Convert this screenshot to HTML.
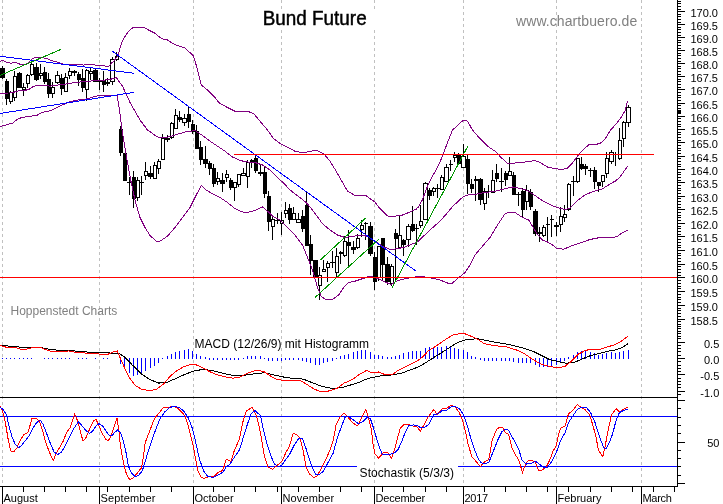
<!DOCTYPE html>
<html><head><meta charset="utf-8"><title>Bund Future</title>
<style>
html,body{margin:0;padding:0;background:#fff;}
body{width:723px;height:504px;overflow:hidden;}
svg{display:block;font-family:"Liberation Sans",Arial,sans-serif;}
</style></head><body>
<svg width="723" height="504" viewBox="0 0 723 504">
<rect x="0" y="0" width="723" height="504" fill="#fff"/>
<g shape-rendering="crispEdges">
<line x1="2.5" y1="0" x2="2.5" y2="486" stroke="#c0c0c0" stroke-width="1" stroke-dasharray="3,3"/>
<line x1="99.5" y1="0" x2="99.5" y2="486" stroke="#c0c0c0" stroke-width="1" stroke-dasharray="3,3"/>
<line x1="193.5" y1="0" x2="193.5" y2="486" stroke="#c0c0c0" stroke-width="1" stroke-dasharray="3,3"/>
<line x1="281.5" y1="0" x2="281.5" y2="486" stroke="#c0c0c0" stroke-width="1" stroke-dasharray="3,3"/>
<line x1="374.5" y1="0" x2="374.5" y2="486" stroke="#c0c0c0" stroke-width="1" stroke-dasharray="3,3"/>
<line x1="463.5" y1="0" x2="463.5" y2="486" stroke="#c0c0c0" stroke-width="1" stroke-dasharray="3,3"/>
<line x1="556.5" y1="0" x2="556.5" y2="486" stroke="#c0c0c0" stroke-width="1" stroke-dasharray="3,3"/>
<line x1="641.5" y1="0" x2="641.5" y2="486" stroke="#c0c0c0" stroke-width="1" stroke-dasharray="3,3"/>
<rect x="2" y="66" width="1" height="13" fill="#000"/>
<rect x="0" y="68" width="5" height="10" fill="#000"/>
<rect x="6" y="79" width="1" height="26" fill="#000"/>
<rect x="5" y="81" width="4" height="18" fill="#000"/>
<rect x="10" y="91" width="1" height="13" fill="#000"/>
<rect x="9" y="92" width="4" height="10" fill="#000"/>
<rect x="10" y="93" width="2" height="8" fill="#fff"/>
<rect x="14" y="71" width="1" height="30" fill="#000"/>
<rect x="13" y="76" width="4" height="22" fill="#000"/>
<rect x="14" y="77" width="2" height="20" fill="#fff"/>
<rect x="19" y="72" width="1" height="16" fill="#000"/>
<rect x="17" y="73" width="5" height="15" fill="#000"/>
<rect x="23" y="83" width="1" height="13" fill="#000"/>
<rect x="22" y="87" width="4" height="3" fill="#000"/>
<rect x="23" y="88" width="2" height="1" fill="#fff"/>
<rect x="27" y="74" width="1" height="14" fill="#000"/>
<rect x="26" y="75" width="4" height="9" fill="#000"/>
<rect x="27" y="76" width="2" height="7" fill="#fff"/>
<rect x="31" y="63" width="1" height="13" fill="#000"/>
<rect x="30" y="64" width="4" height="11" fill="#000"/>
<rect x="31" y="65" width="2" height="9" fill="#fff"/>
<rect x="36" y="63" width="1" height="18" fill="#000"/>
<rect x="34" y="67" width="5" height="13" fill="#000"/>
<rect x="40" y="64" width="1" height="15" fill="#000"/>
<rect x="39" y="73" width="4" height="3" fill="#000"/>
<rect x="40" y="74" width="2" height="1" fill="#fff"/>
<rect x="44" y="67" width="1" height="17" fill="#000"/>
<rect x="43" y="72" width="4" height="10" fill="#000"/>
<rect x="48" y="73" width="1" height="25" fill="#000"/>
<rect x="47" y="79" width="4" height="15" fill="#000"/>
<rect x="52" y="82" width="1" height="16" fill="#000"/>
<rect x="51" y="87" width="4" height="7" fill="#000"/>
<rect x="52" y="88" width="2" height="5" fill="#fff"/>
<rect x="57" y="71" width="1" height="13" fill="#000"/>
<rect x="55" y="75" width="5" height="8" fill="#000"/>
<rect x="56" y="76" width="3" height="6" fill="#fff"/>
<rect x="61" y="74" width="1" height="21" fill="#000"/>
<rect x="60" y="78" width="4" height="11" fill="#000"/>
<rect x="65" y="73" width="1" height="19" fill="#000"/>
<rect x="64" y="77" width="4" height="15" fill="#000"/>
<rect x="65" y="78" width="2" height="13" fill="#fff"/>
<rect x="69" y="68" width="1" height="11" fill="#000"/>
<rect x="68" y="71" width="4" height="5" fill="#000"/>
<rect x="69" y="72" width="2" height="3" fill="#fff"/>
<rect x="74" y="70" width="1" height="6" fill="#000"/>
<rect x="72" y="71" width="5" height="2" fill="#000"/>
<rect x="78" y="72" width="1" height="14" fill="#000"/>
<rect x="77" y="74" width="4" height="6" fill="#000"/>
<rect x="82" y="69" width="1" height="23" fill="#000"/>
<rect x="81" y="78" width="4" height="10" fill="#000"/>
<rect x="86" y="69" width="1" height="32" fill="#000"/>
<rect x="85" y="70" width="4" height="20" fill="#000"/>
<rect x="86" y="71" width="2" height="18" fill="#fff"/>
<rect x="90" y="68" width="1" height="12" fill="#000"/>
<rect x="89" y="71" width="4" height="3" fill="#000"/>
<rect x="90" y="72" width="2" height="1" fill="#fff"/>
<rect x="95" y="69" width="1" height="13" fill="#000"/>
<rect x="93" y="70" width="5" height="12" fill="#000"/>
<rect x="99" y="78" width="1" height="12" fill="#000"/>
<rect x="98" y="80" width="4" height="2" fill="#000"/>
<rect x="103" y="71" width="1" height="21" fill="#000"/>
<rect x="102" y="80" width="4" height="5" fill="#000"/>
<rect x="107" y="78" width="1" height="8" fill="#000"/>
<rect x="106" y="82" width="4" height="2" fill="#000"/>
<rect x="112" y="57" width="1" height="28" fill="#000"/>
<rect x="110" y="59" width="5" height="23" fill="#000"/>
<rect x="111" y="60" width="3" height="21" fill="#fff"/>
<rect x="116" y="52" width="1" height="9" fill="#000"/>
<rect x="115" y="56" width="4" height="4" fill="#000"/>
<rect x="116" y="57" width="2" height="2" fill="#fff"/>
<rect x="120" y="126" width="1" height="30" fill="#000"/>
<rect x="119" y="129" width="4" height="24" fill="#000"/>
<rect x="124" y="153" width="1" height="28" fill="#000"/>
<rect x="123" y="153" width="4" height="28" fill="#000"/>
<rect x="129" y="177" width="1" height="18" fill="#000"/>
<rect x="127" y="182" width="5" height="1" fill="#000"/>
<rect x="133" y="171" width="1" height="37" fill="#000"/>
<rect x="132" y="177" width="4" height="22" fill="#000"/>
<rect x="137" y="177" width="1" height="24" fill="#000"/>
<rect x="136" y="180" width="4" height="18" fill="#000"/>
<rect x="137" y="181" width="2" height="16" fill="#fff"/>
<rect x="141" y="176" width="1" height="19" fill="#000"/>
<rect x="140" y="182" width="4" height="1" fill="#000"/>
<rect x="145" y="162" width="1" height="18" fill="#000"/>
<rect x="144" y="171" width="4" height="5" fill="#000"/>
<rect x="145" y="172" width="2" height="3" fill="#fff"/>
<rect x="150" y="166" width="1" height="13" fill="#000"/>
<rect x="148" y="173" width="5" height="4" fill="#000"/>
<rect x="154" y="162" width="1" height="17" fill="#000"/>
<rect x="153" y="165" width="4" height="14" fill="#000"/>
<rect x="154" y="166" width="2" height="12" fill="#fff"/>
<rect x="158" y="159" width="1" height="15" fill="#000"/>
<rect x="157" y="161" width="4" height="8" fill="#000"/>
<rect x="158" y="162" width="2" height="6" fill="#fff"/>
<rect x="162" y="134" width="1" height="26" fill="#000"/>
<rect x="161" y="138" width="4" height="22" fill="#000"/>
<rect x="162" y="139" width="2" height="20" fill="#fff"/>
<rect x="167" y="135" width="1" height="7" fill="#000"/>
<rect x="165" y="138" width="5" height="2" fill="#000"/>
<rect x="171" y="122" width="1" height="17" fill="#000"/>
<rect x="170" y="123" width="4" height="15" fill="#000"/>
<rect x="171" y="124" width="2" height="13" fill="#fff"/>
<rect x="175" y="109" width="1" height="20" fill="#000"/>
<rect x="174" y="115" width="4" height="14" fill="#000"/>
<rect x="175" y="116" width="2" height="12" fill="#fff"/>
<rect x="179" y="111" width="1" height="11" fill="#000"/>
<rect x="178" y="117" width="4" height="3" fill="#000"/>
<rect x="184" y="114" width="1" height="12" fill="#000"/>
<rect x="182" y="118" width="5" height="5" fill="#000"/>
<rect x="183" y="119" width="3" height="3" fill="#fff"/>
<rect x="188" y="107" width="1" height="21" fill="#000"/>
<rect x="187" y="114" width="4" height="8" fill="#000"/>
<rect x="192" y="120" width="1" height="14" fill="#000"/>
<rect x="191" y="124" width="4" height="8" fill="#000"/>
<rect x="196" y="125" width="1" height="24" fill="#000"/>
<rect x="195" y="131" width="4" height="18" fill="#000"/>
<rect x="200" y="141" width="1" height="24" fill="#000"/>
<rect x="199" y="147" width="4" height="13" fill="#000"/>
<rect x="205" y="146" width="1" height="22" fill="#000"/>
<rect x="203" y="159" width="5" height="5" fill="#000"/>
<rect x="209" y="161" width="1" height="14" fill="#000"/>
<rect x="208" y="163" width="4" height="6" fill="#000"/>
<rect x="213" y="164" width="1" height="23" fill="#000"/>
<rect x="212" y="168" width="4" height="16" fill="#000"/>
<rect x="217" y="172" width="1" height="13" fill="#000"/>
<rect x="216" y="178" width="4" height="4" fill="#000"/>
<rect x="217" y="179" width="2" height="2" fill="#fff"/>
<rect x="222" y="173" width="1" height="19" fill="#000"/>
<rect x="220" y="180" width="5" height="4" fill="#000"/>
<rect x="226" y="170" width="1" height="12" fill="#000"/>
<rect x="225" y="174" width="4" height="4" fill="#000"/>
<rect x="226" y="175" width="2" height="2" fill="#fff"/>
<rect x="230" y="178" width="1" height="12" fill="#000"/>
<rect x="229" y="180" width="4" height="8" fill="#000"/>
<rect x="234" y="182" width="1" height="19" fill="#000"/>
<rect x="233" y="182" width="4" height="6" fill="#000"/>
<rect x="234" y="183" width="2" height="4" fill="#fff"/>
<rect x="238" y="174" width="1" height="13" fill="#000"/>
<rect x="237" y="174" width="4" height="11" fill="#000"/>
<rect x="238" y="175" width="2" height="9" fill="#fff"/>
<rect x="243" y="168" width="1" height="8" fill="#000"/>
<rect x="241" y="173" width="5" height="3" fill="#000"/>
<rect x="242" y="174" width="3" height="1" fill="#fff"/>
<rect x="247" y="160" width="1" height="28" fill="#000"/>
<rect x="246" y="162" width="4" height="15" fill="#000"/>
<rect x="247" y="163" width="2" height="13" fill="#fff"/>
<rect x="251" y="159" width="1" height="9" fill="#000"/>
<rect x="250" y="160" width="4" height="2" fill="#000"/>
<rect x="255" y="155" width="1" height="18" fill="#000"/>
<rect x="254" y="158" width="4" height="13" fill="#000"/>
<rect x="260" y="165" width="1" height="11" fill="#000"/>
<rect x="258" y="172" width="5" height="2" fill="#000"/>
<rect x="264" y="167" width="1" height="31" fill="#000"/>
<rect x="263" y="172" width="4" height="22" fill="#000"/>
<rect x="268" y="191" width="1" height="40" fill="#000"/>
<rect x="267" y="196" width="4" height="26" fill="#000"/>
<rect x="272" y="215" width="1" height="25" fill="#000"/>
<rect x="271" y="219" width="4" height="8" fill="#000"/>
<rect x="272" y="220" width="2" height="6" fill="#fff"/>
<rect x="277" y="213" width="1" height="11" fill="#000"/>
<rect x="275" y="220" width="5" height="1" fill="#000"/>
<rect x="281" y="212" width="1" height="23" fill="#000"/>
<rect x="280" y="220" width="4" height="4" fill="#000"/>
<rect x="281" y="221" width="2" height="2" fill="#fff"/>
<rect x="285" y="202" width="1" height="16" fill="#000"/>
<rect x="284" y="210" width="4" height="4" fill="#000"/>
<rect x="285" y="211" width="2" height="2" fill="#fff"/>
<rect x="289" y="204" width="1" height="20" fill="#000"/>
<rect x="288" y="208" width="4" height="12" fill="#000"/>
<rect x="293" y="207" width="1" height="13" fill="#000"/>
<rect x="292" y="213" width="4" height="7" fill="#000"/>
<rect x="293" y="214" width="2" height="5" fill="#fff"/>
<rect x="298" y="213" width="1" height="10" fill="#000"/>
<rect x="296" y="219" width="5" height="4" fill="#000"/>
<rect x="297" y="220" width="3" height="2" fill="#fff"/>
<rect x="302" y="210" width="1" height="22" fill="#000"/>
<rect x="301" y="216" width="4" height="13" fill="#000"/>
<rect x="306" y="192" width="1" height="54" fill="#000"/>
<rect x="305" y="205" width="4" height="41" fill="#000"/>
<rect x="310" y="235" width="1" height="40" fill="#000"/>
<rect x="309" y="244" width="4" height="17" fill="#000"/>
<rect x="315" y="260" width="1" height="18" fill="#000"/>
<rect x="313" y="260" width="5" height="17" fill="#000"/>
<rect x="319" y="267" width="1" height="33" fill="#000"/>
<rect x="318" y="275" width="4" height="11" fill="#000"/>
<rect x="319" y="276" width="2" height="9" fill="#fff"/>
<rect x="323" y="260" width="1" height="12" fill="#000"/>
<rect x="322" y="269" width="4" height="3" fill="#000"/>
<rect x="323" y="270" width="2" height="1" fill="#fff"/>
<rect x="327" y="261" width="1" height="21" fill="#000"/>
<rect x="326" y="263" width="4" height="5" fill="#000"/>
<rect x="327" y="264" width="2" height="3" fill="#fff"/>
<rect x="332" y="251" width="1" height="17" fill="#000"/>
<rect x="330" y="262" width="5" height="1" fill="#000"/>
<rect x="336" y="248" width="1" height="29" fill="#000"/>
<rect x="335" y="256" width="4" height="17" fill="#000"/>
<rect x="336" y="257" width="2" height="15" fill="#fff"/>
<rect x="340" y="251" width="1" height="13" fill="#000"/>
<rect x="339" y="252" width="4" height="2" fill="#000"/>
<rect x="344" y="236" width="1" height="21" fill="#000"/>
<rect x="343" y="241" width="4" height="15" fill="#000"/>
<rect x="344" y="242" width="2" height="13" fill="#fff"/>
<rect x="348" y="230" width="1" height="36" fill="#000"/>
<rect x="347" y="242" width="4" height="4" fill="#000"/>
<rect x="353" y="241" width="1" height="13" fill="#000"/>
<rect x="351" y="247" width="5" height="3" fill="#000"/>
<rect x="357" y="234" width="1" height="15" fill="#000"/>
<rect x="356" y="238" width="4" height="10" fill="#000"/>
<rect x="357" y="239" width="2" height="8" fill="#fff"/>
<rect x="361" y="220" width="1" height="17" fill="#000"/>
<rect x="360" y="225" width="4" height="5" fill="#000"/>
<rect x="361" y="226" width="2" height="3" fill="#fff"/>
<rect x="365" y="222" width="1" height="18" fill="#000"/>
<rect x="364" y="223" width="4" height="1" fill="#000"/>
<rect x="370" y="222" width="1" height="34" fill="#000"/>
<rect x="368" y="226" width="5" height="28" fill="#000"/>
<rect x="374" y="252" width="1" height="38" fill="#000"/>
<rect x="373" y="257" width="4" height="25" fill="#000"/>
<rect x="378" y="246" width="1" height="35" fill="#000"/>
<rect x="377" y="246" width="4" height="32" fill="#000"/>
<rect x="378" y="247" width="2" height="30" fill="#fff"/>
<rect x="382" y="238" width="1" height="42" fill="#000"/>
<rect x="381" y="238" width="4" height="27" fill="#000"/>
<rect x="387" y="257" width="1" height="28" fill="#000"/>
<rect x="385" y="264" width="5" height="18" fill="#000"/>
<rect x="391" y="264" width="1" height="22" fill="#000"/>
<rect x="390" y="266" width="4" height="18" fill="#000"/>
<rect x="391" y="267" width="2" height="16" fill="#fff"/>
<rect x="395" y="229" width="1" height="51" fill="#000"/>
<rect x="394" y="233" width="4" height="6" fill="#000"/>
<rect x="399" y="215" width="1" height="34" fill="#000"/>
<rect x="398" y="235" width="4" height="13" fill="#000"/>
<rect x="399" y="236" width="2" height="11" fill="#fff"/>
<rect x="403" y="239" width="1" height="17" fill="#000"/>
<rect x="402" y="240" width="4" height="5" fill="#000"/>
<rect x="408" y="224" width="1" height="23" fill="#000"/>
<rect x="406" y="226" width="5" height="14" fill="#000"/>
<rect x="407" y="227" width="3" height="12" fill="#fff"/>
<rect x="412" y="206" width="1" height="26" fill="#000"/>
<rect x="411" y="224" width="4" height="7" fill="#000"/>
<rect x="416" y="224" width="1" height="21" fill="#000"/>
<rect x="415" y="228" width="4" height="1" fill="#000"/>
<rect x="420" y="205" width="1" height="23" fill="#000"/>
<rect x="419" y="221" width="4" height="5" fill="#000"/>
<rect x="420" y="222" width="2" height="3" fill="#fff"/>
<rect x="425" y="182" width="1" height="38" fill="#000"/>
<rect x="423" y="183" width="5" height="37" fill="#000"/>
<rect x="424" y="184" width="3" height="35" fill="#fff"/>
<rect x="429" y="188" width="1" height="12" fill="#000"/>
<rect x="428" y="190" width="4" height="6" fill="#000"/>
<rect x="433" y="187" width="1" height="9" fill="#000"/>
<rect x="432" y="188" width="4" height="4" fill="#000"/>
<rect x="433" y="189" width="2" height="2" fill="#fff"/>
<rect x="437" y="184" width="1" height="14" fill="#000"/>
<rect x="436" y="188" width="4" height="1" fill="#000"/>
<rect x="441" y="175" width="1" height="15" fill="#000"/>
<rect x="440" y="177" width="4" height="13" fill="#000"/>
<rect x="441" y="178" width="2" height="11" fill="#fff"/>
<rect x="446" y="164" width="1" height="18" fill="#000"/>
<rect x="444" y="167" width="5" height="15" fill="#000"/>
<rect x="445" y="168" width="3" height="13" fill="#fff"/>
<rect x="450" y="160" width="1" height="11" fill="#000"/>
<rect x="449" y="164" width="4" height="1" fill="#000"/>
<rect x="454" y="152" width="1" height="10" fill="#000"/>
<rect x="453" y="155" width="4" height="3" fill="#000"/>
<rect x="454" y="156" width="2" height="1" fill="#fff"/>
<rect x="458" y="153" width="1" height="12" fill="#000"/>
<rect x="457" y="155" width="4" height="9" fill="#000"/>
<rect x="463" y="144" width="1" height="24" fill="#000"/>
<rect x="461" y="156" width="5" height="12" fill="#000"/>
<rect x="462" y="157" width="3" height="10" fill="#fff"/>
<rect x="467" y="155" width="1" height="39" fill="#000"/>
<rect x="466" y="159" width="4" height="25" fill="#000"/>
<rect x="471" y="179" width="1" height="14" fill="#000"/>
<rect x="470" y="184" width="4" height="5" fill="#000"/>
<rect x="475" y="176" width="1" height="25" fill="#000"/>
<rect x="474" y="179" width="4" height="2" fill="#000"/>
<rect x="480" y="178" width="1" height="27" fill="#000"/>
<rect x="478" y="179" width="5" height="21" fill="#000"/>
<rect x="484" y="188" width="1" height="22" fill="#000"/>
<rect x="483" y="191" width="4" height="13" fill="#000"/>
<rect x="484" y="192" width="2" height="11" fill="#fff"/>
<rect x="488" y="185" width="1" height="13" fill="#000"/>
<rect x="487" y="191" width="4" height="1" fill="#000"/>
<rect x="492" y="170" width="1" height="23" fill="#000"/>
<rect x="491" y="180" width="4" height="13" fill="#000"/>
<rect x="492" y="181" width="2" height="11" fill="#fff"/>
<rect x="496" y="164" width="1" height="18" fill="#000"/>
<rect x="495" y="173" width="4" height="6" fill="#000"/>
<rect x="501" y="168" width="1" height="24" fill="#000"/>
<rect x="499" y="181" width="5" height="1" fill="#000"/>
<rect x="505" y="171" width="1" height="15" fill="#000"/>
<rect x="504" y="173" width="4" height="7" fill="#000"/>
<rect x="509" y="157" width="1" height="19" fill="#000"/>
<rect x="508" y="171" width="4" height="5" fill="#000"/>
<rect x="509" y="172" width="2" height="3" fill="#fff"/>
<rect x="513" y="172" width="1" height="23" fill="#000"/>
<rect x="512" y="175" width="4" height="20" fill="#000"/>
<rect x="518" y="192" width="1" height="14" fill="#000"/>
<rect x="516" y="194" width="5" height="1" fill="#000"/>
<rect x="522" y="188" width="1" height="29" fill="#000"/>
<rect x="521" y="191" width="4" height="19" fill="#000"/>
<rect x="526" y="185" width="1" height="25" fill="#000"/>
<rect x="525" y="190" width="4" height="12" fill="#000"/>
<rect x="526" y="191" width="2" height="10" fill="#fff"/>
<rect x="530" y="189" width="1" height="21" fill="#000"/>
<rect x="529" y="192" width="4" height="15" fill="#000"/>
<rect x="535" y="209" width="1" height="27" fill="#000"/>
<rect x="533" y="211" width="5" height="23" fill="#000"/>
<rect x="539" y="227" width="1" height="15" fill="#000"/>
<rect x="538" y="232" width="4" height="2" fill="#000"/>
<rect x="543" y="225" width="1" height="12" fill="#000"/>
<rect x="542" y="227" width="4" height="9" fill="#000"/>
<rect x="543" y="228" width="2" height="7" fill="#fff"/>
<rect x="547" y="217" width="1" height="25" fill="#000"/>
<rect x="546" y="224" width="4" height="1" fill="#000"/>
<rect x="551" y="215" width="1" height="22" fill="#000"/>
<rect x="550" y="219" width="4" height="1" fill="#000"/>
<rect x="556" y="222" width="1" height="14" fill="#000"/>
<rect x="554" y="225" width="5" height="2" fill="#000"/>
<rect x="560" y="207" width="1" height="25" fill="#000"/>
<rect x="559" y="216" width="4" height="9" fill="#000"/>
<rect x="560" y="217" width="2" height="7" fill="#fff"/>
<rect x="564" y="205" width="1" height="17" fill="#000"/>
<rect x="563" y="214" width="4" height="4" fill="#000"/>
<rect x="564" y="215" width="2" height="2" fill="#fff"/>
<rect x="568" y="183" width="1" height="28" fill="#000"/>
<rect x="567" y="184" width="4" height="26" fill="#000"/>
<rect x="568" y="185" width="2" height="24" fill="#fff"/>
<rect x="573" y="176" width="1" height="20" fill="#000"/>
<rect x="571" y="181" width="5" height="1" fill="#000"/>
<rect x="577" y="158" width="1" height="25" fill="#000"/>
<rect x="576" y="158" width="4" height="24" fill="#000"/>
<rect x="577" y="159" width="2" height="22" fill="#fff"/>
<rect x="581" y="157" width="1" height="13" fill="#000"/>
<rect x="580" y="164" width="4" height="5" fill="#000"/>
<rect x="585" y="164" width="1" height="11" fill="#000"/>
<rect x="584" y="166" width="4" height="3" fill="#000"/>
<rect x="590" y="168" width="1" height="9" fill="#000"/>
<rect x="588" y="170" width="5" height="1" fill="#000"/>
<rect x="594" y="167" width="1" height="22" fill="#000"/>
<rect x="593" y="170" width="4" height="12" fill="#000"/>
<rect x="598" y="182" width="1" height="10" fill="#000"/>
<rect x="597" y="182" width="4" height="4" fill="#000"/>
<rect x="602" y="175" width="1" height="12" fill="#000"/>
<rect x="601" y="175" width="4" height="7" fill="#000"/>
<rect x="602" y="176" width="2" height="5" fill="#fff"/>
<rect x="606" y="152" width="1" height="26" fill="#000"/>
<rect x="605" y="158" width="4" height="16" fill="#000"/>
<rect x="606" y="159" width="2" height="14" fill="#fff"/>
<rect x="611" y="150" width="1" height="14" fill="#000"/>
<rect x="609" y="152" width="5" height="10" fill="#000"/>
<rect x="610" y="153" width="3" height="8" fill="#fff"/>
<rect x="615" y="152" width="1" height="14" fill="#000"/>
<rect x="614" y="154" width="4" height="1" fill="#000"/>
<rect x="619" y="128" width="1" height="32" fill="#000"/>
<rect x="618" y="140" width="4" height="19" fill="#000"/>
<rect x="619" y="141" width="2" height="17" fill="#fff"/>
<rect x="623" y="121" width="1" height="26" fill="#000"/>
<rect x="622" y="122" width="4" height="17" fill="#000"/>
<rect x="623" y="123" width="2" height="15" fill="#fff"/>
<rect x="628" y="105" width="1" height="22" fill="#000"/>
<rect x="626" y="107" width="5" height="16" fill="#000"/>
<rect x="627" y="108" width="3" height="14" fill="#fff"/>
<polyline points="0.0,61.3 2.5,60.4 5.0,61.7 8.3,62.5 10.8,63.4 13.3,62.5 16.6,62.8 19.9,64.2 24.9,64.4 27.4,63.4 29.9,61.3 32.4,58.8 35.7,57.5 41.5,57.5 46.5,58.4 49.8,60.0 53.9,61.3 58.0,62.3 60.8,63.6 64.7,64.4 69.5,64.6 80.2,64.6 84.0,65.1 86.0,64.4 93.7,64.4 95.7,65.4 103.4,65.6 106.3,66.5 108.7,66.3 111.1,63.6 114.1,60.7 117.0,56.8 118.7,53.6 120.6,46.1 122.4,41.2 125.6,35.6 128.7,31.2 133.0,27.5 144.2,27.5 148.6,30.0 154.8,33.1 159.8,37.4 163.5,39.3 166.6,39.3 171.0,42.4 176.0,44.9 184.7,48.0 189.7,52.4 193.4,56.1 194.7,59.8 197.5,70.0 201.2,85.0 207.5,90.0 215.0,97.5 218.7,102.5 227.5,107.5 235.0,111.2 247.5,111.2 253.7,113.7 260.0,121.2 267.5,130.0 273.7,138.7 280.0,143.5 287.5,147.3 295.0,151.2 302.5,152.8 310.0,151.5 316.2,150.2 323.7,153.7 330.0,161.2 336.2,171.2 342.5,182.5 347.5,191.0 355.0,195.5 365.0,195.0 370.0,198.7 375.0,202.0 380.0,208.7 387.5,216.0 395.0,216.2 402.5,215.0 410.0,212.0 417.5,208.5 422.5,199.5 427.5,186.2 432.5,176.2 437.5,167.5 442.5,156.2 447.5,142.5 452.5,130.0 457.5,125.7 460.0,123.0 463.7,120.0 467.5,121.2 472.5,130.0 480.0,138.7 487.5,146.2 495.0,151.2 501.2,157.5 507.5,163.7 515.0,163.0 525.0,162.0 535.0,160.5 540.0,162.5 547.5,167.0 555.0,168.7 562.5,169.5 567.5,168.0 572.5,163.0 577.5,156.0 582.5,150.5 589.2,144.3 594.2,144.7 600.0,143.5 605.0,139.2 610.0,130.8 616.7,123.3 621.7,116.7 625.0,110.8 627.5,101.3" fill="none" stroke="#800080" stroke-width="1"/>
<polyline points="0.0,93.6 5.0,93.2 12.4,92.8 16.6,91.2 21.6,90.3 28.2,89.9 33.2,86.6 37.3,85.4 46.5,85.4 49.8,86.2 54.8,85.4 62.5,84.5 75.0,82.5 87.5,81.2 100.0,80.5 110.0,79.5 116.2,77.5 122.5,86.2 130.0,102.5 140.0,120.0 147.5,130.0 157.5,137.0 165.0,138.0 175.0,135.0 185.0,132.0 195.0,130.5 202.5,135.5 210.0,141.2 217.5,146.2 225.0,151.2 232.5,157.0 240.0,160.5 247.5,162.0 255.0,162.5 262.5,165.0 270.0,170.0 277.5,177.5 285.0,184.5 290.0,190.0 300.0,197.5 307.5,203.7 315.0,213.5 322.5,223.7 330.0,230.0 337.5,235.0 345.0,237.5 352.5,236.2 360.0,235.5 367.5,236.2 375.0,241.2 382.5,246.2 390.0,249.5 397.5,248.7 405.0,247.0 412.5,243.9 415.0,243.3 418.6,241.0 422.1,237.4 426.9,233.2 431.7,228.5 436.4,224.3 440.0,221.3 443.6,217.1 448.3,211.8 453.1,205.8 456.7,202.9 460.2,199.3 463.8,196.3 467.4,195.1 475.0,194.3 482.5,193.0 495.0,191.2 505.0,188.7 512.5,187.0 520.0,188.3 527.5,190.5 535.0,195.5 542.5,200.8 550.0,204.7 557.5,207.7 565.0,209.6 570.0,208.0 577.5,200.5 585.0,195.0 592.5,191.7 602.5,188.8 610.0,184.0 615.8,180.8 620.0,177.0 627.5,166.3" fill="none" stroke="#800080" stroke-width="1"/>
<polyline points="0.0,126.7 7.0,124.6 13.1,122.9 18.3,118.5 26.1,116.8 36.6,115.5 41.8,112.4 50.5,110.7 59.3,106.3 69.7,101.9 76.7,100.2 87.1,98.8 97.6,95.8 117.1,95.8 118.5,103.7 120.3,115.9 121.5,126.7 123.7,140.0 127.5,162.5 131.2,182.5 135.0,200.0 140.0,217.5 145.0,227.5 150.0,235.5 156.2,241.2 160.0,241.2 167.5,236.2 175.0,227.5 182.5,217.5 190.0,207.5 195.0,197.5 201.2,185.5 206.2,190.0 212.5,193.7 220.0,197.5 227.5,202.5 235.0,208.7 245.0,213.0 255.0,210.5 262.5,207.0 267.5,211.2 272.5,216.2 280.0,220.0 287.5,227.5 295.0,235.0 302.5,245.0 307.5,257.5 312.5,270.0 317.5,287.5 321.2,296.2 326.2,300.0 332.5,299.5 338.7,295.0 343.7,287.5 348.7,282.5 355.0,281.2 362.5,278.7 370.0,276.2 375.0,277.5 380.0,279.5 387.5,283.0 391.2,284.5 397.5,280.5 405.0,278.7 412.5,277.5 420.0,276.2 427.5,277.5 435.0,278.7 440.0,280.0 447.5,283.0 452.5,283.0 457.5,278.7 465.0,272.5 470.0,265.0 475.0,255.0 482.5,246.2 490.0,237.5 497.5,225.0 505.0,213.7 510.0,212.0 515.0,212.5 522.5,217.5 528.7,220.0 532.5,226.2 537.5,234.5 542.5,240.0 547.5,242.0 552.5,245.0 556.2,248.0 563.7,249.3 570.0,246.5 580.0,243.0 590.0,239.5 600.0,237.5 612.5,237.5 616.7,236.7 621.7,233.3 628.0,230.0" fill="none" stroke="#800080" stroke-width="1"/>
<line x1="0" y1="56.2" x2="134.2" y2="73.3" stroke="#0000ff" stroke-width="1"/>
<line x1="0" y1="113.5" x2="134.2" y2="92.3" stroke="#0000ff" stroke-width="1"/>
<line x1="112" y1="51" x2="416.5" y2="271.5" stroke="#0000ff" stroke-width="1"/>
<line x1="0" y1="75.4" x2="60.8" y2="49.5" stroke="#009600" stroke-width="1"/>
<line x1="320" y1="260.3" x2="365.5" y2="218.2" stroke="#009600" stroke-width="1"/>
<line x1="315" y1="297.5" x2="379" y2="239" stroke="#009600" stroke-width="1"/>
<line x1="391.7" y1="288.3" x2="467.8" y2="146.3" stroke="#009600" stroke-width="1"/>
<rect x="234" y="154" width="420" height="1" fill="#ff0000"/>
<rect x="0" y="277" width="677" height="1" fill="#ff0000"/>
<rect x="2" y="358" width="1" height="1" fill="#0000ff"/>
<rect x="6" y="358" width="1" height="1" fill="#0000ff"/>
<rect x="10" y="358" width="1" height="1" fill="#0000ff"/>
<rect x="14" y="358" width="1" height="1" fill="#0000ff"/>
<rect x="19" y="358" width="1" height="1" fill="#0000ff"/>
<rect x="23" y="358" width="1" height="1" fill="#0000ff"/>
<rect x="27" y="358" width="1" height="1" fill="#0000ff"/>
<rect x="31" y="358" width="1" height="1" fill="#0000ff"/>
<rect x="44" y="358" width="1" height="1" fill="#0000ff"/>
<rect x="48" y="358" width="1" height="1" fill="#0000ff"/>
<rect x="52" y="358" width="1" height="1" fill="#0000ff"/>
<rect x="57" y="358" width="1" height="1" fill="#0000ff"/>
<rect x="61" y="358" width="1" height="1" fill="#0000ff"/>
<rect x="65" y="358" width="1" height="1" fill="#0000ff"/>
<rect x="69" y="358" width="1" height="1" fill="#0000ff"/>
<rect x="78" y="358" width="1" height="1" fill="#0000ff"/>
<rect x="82" y="358" width="1" height="1" fill="#0000ff"/>
<rect x="86" y="358" width="1" height="1" fill="#0000ff"/>
<rect x="95" y="358" width="1" height="1" fill="#0000ff"/>
<rect x="103" y="358" width="1" height="1" fill="#0000ff"/>
<rect x="107" y="358" width="1" height="1" fill="#0000ff"/>
<rect x="120" y="358" width="1" height="6" fill="#0000ff"/>
<rect x="124" y="358" width="1" height="11" fill="#0000ff"/>
<rect x="129" y="358" width="1" height="15" fill="#0000ff"/>
<rect x="133" y="358" width="1" height="18" fill="#0000ff"/>
<rect x="137" y="358" width="1" height="17" fill="#0000ff"/>
<rect x="141" y="358" width="1" height="15" fill="#0000ff"/>
<rect x="145" y="358" width="1" height="13" fill="#0000ff"/>
<rect x="150" y="358" width="1" height="10" fill="#0000ff"/>
<rect x="154" y="358" width="1" height="8" fill="#0000ff"/>
<rect x="158" y="358" width="1" height="5" fill="#0000ff"/>
<rect x="162" y="358" width="1" height="1" fill="#0000ff"/>
<rect x="167" y="356" width="1" height="3" fill="#0000ff"/>
<rect x="171" y="354" width="1" height="5" fill="#0000ff"/>
<rect x="175" y="352" width="1" height="7" fill="#0000ff"/>
<rect x="179" y="351" width="1" height="8" fill="#0000ff"/>
<rect x="184" y="350" width="1" height="9" fill="#0000ff"/>
<rect x="188" y="349" width="1" height="10" fill="#0000ff"/>
<rect x="192" y="351" width="1" height="8" fill="#0000ff"/>
<rect x="196" y="354" width="1" height="5" fill="#0000ff"/>
<rect x="200" y="356" width="1" height="3" fill="#0000ff"/>
<rect x="205" y="357" width="1" height="2" fill="#0000ff"/>
<rect x="209" y="358" width="1" height="2" fill="#0000ff"/>
<rect x="213" y="358" width="1" height="2" fill="#0000ff"/>
<rect x="217" y="358" width="1" height="2" fill="#0000ff"/>
<rect x="222" y="358" width="1" height="2" fill="#0000ff"/>
<rect x="226" y="358" width="1" height="2" fill="#0000ff"/>
<rect x="230" y="358" width="1" height="2" fill="#0000ff"/>
<rect x="234" y="358" width="1" height="2" fill="#0000ff"/>
<rect x="238" y="358" width="1" height="2" fill="#0000ff"/>
<rect x="243" y="358" width="1" height="1" fill="#0000ff"/>
<rect x="247" y="356" width="1" height="3" fill="#0000ff"/>
<rect x="251" y="356" width="1" height="3" fill="#0000ff"/>
<rect x="255" y="356" width="1" height="3" fill="#0000ff"/>
<rect x="260" y="356" width="1" height="3" fill="#0000ff"/>
<rect x="264" y="358" width="1" height="1" fill="#0000ff"/>
<rect x="268" y="358" width="1" height="3" fill="#0000ff"/>
<rect x="272" y="358" width="1" height="3" fill="#0000ff"/>
<rect x="277" y="358" width="1" height="3" fill="#0000ff"/>
<rect x="281" y="358" width="1" height="3" fill="#0000ff"/>
<rect x="285" y="358" width="1" height="2" fill="#0000ff"/>
<rect x="289" y="358" width="1" height="2" fill="#0000ff"/>
<rect x="293" y="358" width="1" height="2" fill="#0000ff"/>
<rect x="298" y="358" width="1" height="2" fill="#0000ff"/>
<rect x="302" y="358" width="1" height="3" fill="#0000ff"/>
<rect x="306" y="358" width="1" height="4" fill="#0000ff"/>
<rect x="310" y="358" width="1" height="5" fill="#0000ff"/>
<rect x="315" y="358" width="1" height="7" fill="#0000ff"/>
<rect x="319" y="358" width="1" height="7" fill="#0000ff"/>
<rect x="323" y="358" width="1" height="5" fill="#0000ff"/>
<rect x="327" y="358" width="1" height="4" fill="#0000ff"/>
<rect x="332" y="358" width="1" height="3" fill="#0000ff"/>
<rect x="336" y="358" width="1" height="1" fill="#0000ff"/>
<rect x="340" y="356" width="1" height="3" fill="#0000ff"/>
<rect x="344" y="355" width="1" height="4" fill="#0000ff"/>
<rect x="348" y="354" width="1" height="5" fill="#0000ff"/>
<rect x="353" y="352" width="1" height="7" fill="#0000ff"/>
<rect x="357" y="351" width="1" height="8" fill="#0000ff"/>
<rect x="361" y="350" width="1" height="9" fill="#0000ff"/>
<rect x="365" y="350" width="1" height="9" fill="#0000ff"/>
<rect x="370" y="352" width="1" height="7" fill="#0000ff"/>
<rect x="374" y="355" width="1" height="4" fill="#0000ff"/>
<rect x="378" y="355" width="1" height="4" fill="#0000ff"/>
<rect x="382" y="356" width="1" height="3" fill="#0000ff"/>
<rect x="387" y="357" width="1" height="2" fill="#0000ff"/>
<rect x="391" y="357" width="1" height="2" fill="#0000ff"/>
<rect x="395" y="356" width="1" height="3" fill="#0000ff"/>
<rect x="399" y="355" width="1" height="4" fill="#0000ff"/>
<rect x="403" y="353" width="1" height="6" fill="#0000ff"/>
<rect x="408" y="352" width="1" height="7" fill="#0000ff"/>
<rect x="412" y="351" width="1" height="8" fill="#0000ff"/>
<rect x="416" y="351" width="1" height="8" fill="#0000ff"/>
<rect x="420" y="351" width="1" height="8" fill="#0000ff"/>
<rect x="425" y="348" width="1" height="11" fill="#0000ff"/>
<rect x="429" y="347" width="1" height="12" fill="#0000ff"/>
<rect x="433" y="347" width="1" height="12" fill="#0000ff"/>
<rect x="437" y="347" width="1" height="12" fill="#0000ff"/>
<rect x="441" y="347" width="1" height="12" fill="#0000ff"/>
<rect x="446" y="346" width="1" height="13" fill="#0000ff"/>
<rect x="450" y="347" width="1" height="12" fill="#0000ff"/>
<rect x="454" y="348" width="1" height="11" fill="#0000ff"/>
<rect x="458" y="349" width="1" height="10" fill="#0000ff"/>
<rect x="463" y="350" width="1" height="9" fill="#0000ff"/>
<rect x="467" y="352" width="1" height="7" fill="#0000ff"/>
<rect x="471" y="356" width="1" height="3" fill="#0000ff"/>
<rect x="475" y="357" width="1" height="2" fill="#0000ff"/>
<rect x="480" y="358" width="1" height="2" fill="#0000ff"/>
<rect x="484" y="358" width="1" height="3" fill="#0000ff"/>
<rect x="488" y="358" width="1" height="3" fill="#0000ff"/>
<rect x="492" y="358" width="1" height="3" fill="#0000ff"/>
<rect x="496" y="358" width="1" height="3" fill="#0000ff"/>
<rect x="501" y="358" width="1" height="3" fill="#0000ff"/>
<rect x="505" y="358" width="1" height="3" fill="#0000ff"/>
<rect x="509" y="358" width="1" height="3" fill="#0000ff"/>
<rect x="513" y="358" width="1" height="4" fill="#0000ff"/>
<rect x="518" y="358" width="1" height="5" fill="#0000ff"/>
<rect x="522" y="358" width="1" height="5" fill="#0000ff"/>
<rect x="526" y="358" width="1" height="5" fill="#0000ff"/>
<rect x="530" y="358" width="1" height="5" fill="#0000ff"/>
<rect x="535" y="358" width="1" height="7" fill="#0000ff"/>
<rect x="539" y="358" width="1" height="9" fill="#0000ff"/>
<rect x="543" y="358" width="1" height="9" fill="#0000ff"/>
<rect x="547" y="358" width="1" height="9" fill="#0000ff"/>
<rect x="551" y="358" width="1" height="8" fill="#0000ff"/>
<rect x="556" y="358" width="1" height="7" fill="#0000ff"/>
<rect x="560" y="358" width="1" height="5" fill="#0000ff"/>
<rect x="564" y="358" width="1" height="3" fill="#0000ff"/>
<rect x="568" y="357" width="1" height="2" fill="#0000ff"/>
<rect x="573" y="355" width="1" height="4" fill="#0000ff"/>
<rect x="577" y="352" width="1" height="7" fill="#0000ff"/>
<rect x="581" y="351" width="1" height="8" fill="#0000ff"/>
<rect x="585" y="351" width="1" height="8" fill="#0000ff"/>
<rect x="590" y="352" width="1" height="7" fill="#0000ff"/>
<rect x="594" y="353" width="1" height="6" fill="#0000ff"/>
<rect x="598" y="355" width="1" height="4" fill="#0000ff"/>
<rect x="602" y="354" width="1" height="5" fill="#0000ff"/>
<rect x="606" y="353" width="1" height="6" fill="#0000ff"/>
<rect x="611" y="352" width="1" height="7" fill="#0000ff"/>
<rect x="615" y="353" width="1" height="6" fill="#0000ff"/>
<rect x="619" y="352" width="1" height="7" fill="#0000ff"/>
<rect x="623" y="351" width="1" height="8" fill="#0000ff"/>
<rect x="628" y="350" width="1" height="9" fill="#0000ff"/>
<polyline points="0.0,345.5 11.0,346.2 22.0,347.3 39.8,347.3 50.9,349.5 62.0,350.6 75.2,351.0 88.5,352.1 101.8,352.8 118.4,353.2 123.9,356.5 132.7,365.4 141.6,374.2 150.4,379.8 158.8,383.1 167.7,382.0 176.5,378.2 185.4,374.2 194.2,370.9 203.1,369.4 211.9,370.5 220.8,372.7 229.6,374.9 238.5,375.8 247.3,374.9 256.2,373.6 265.0,372.7 273.9,374.9 282.7,376.9 291.6,378.2 302.7,379.1 306.6,380.4 313.3,383.1 322.1,386.4 333.2,388.6 342.0,387.5 350.9,384.9 359.7,382.0 368.6,378.2 377.4,376.5 384.1,375.4 392.9,374.9 401.8,373.1 410.6,369.8 419.5,366.5 428.3,361.0 437.2,355.4 446.0,349.9 450.0,347.1 458.3,342.2 466.6,339.4 477.7,338.8 488.7,341.0 499.8,343.0 510.9,344.9 521.9,347.7 533.0,351.3 541.3,355.4 549.6,359.6 557.9,361.5 566.2,363.2 574.5,362.3 582.8,358.7 591.1,355.4 599.4,353.5 607.7,351.3 616.0,349.9 622.9,347.1 627.9,343.8" fill="none" stroke="#000" stroke-width="1"/>
<polyline points="0.0,345.5 6.6,347.3 15.5,347.7 22.1,349.5 28.8,348.8 33.2,347.3 40.9,347.7 50.9,351.5 59.7,351.7 68.6,351.0 77.4,352.6 88.5,353.2 97.3,353.7 106.2,355.0 112.8,352.1 117.3,351.0 120.6,358.8 125.0,368.7 129.4,377.6 135.0,385.3 141.6,389.3 150.4,390.6 156.6,389.3 163.3,384.2 169.9,376.5 176.5,370.9 183.2,367.0 190.9,364.3 196.5,365.0 203.1,368.0 209.7,371.6 216.4,374.7 225.2,376.9 233.0,378.2 240.7,376.9 247.3,373.1 254.0,370.9 258.4,370.5 263.9,371.6 269.5,375.4 276.1,379.1 282.7,380.4 293.8,380.4 300.0,380.4 306.6,384.2 313.3,388.6 319.9,391.5 324.3,392.0 331.0,390.4 337.6,388.0 344.2,383.1 353.1,379.1 359.7,374.2 366.4,370.5 373.0,373.1 378.5,372.0 384.1,374.2 391.8,374.9 397.3,370.9 404.0,367.6 410.6,364.3 417.3,361.0 421.7,357.7 428.3,351.0 435.0,346.6 441.6,342.2 448.2,337.7 454.0,334.5 456.9,334.1 463.8,333.3 470.7,336.1 477.7,339.4 484.6,343.8 494.3,345.7 505.3,346.6 516.4,349.9 524.7,354.0 533.0,359.6 541.3,364.3 549.6,366.5 557.9,367.9 564.8,366.5 571.7,361.0 578.6,354.0 585.5,350.4 591.1,349.3 598.0,349.9 604.9,347.7 613.2,345.2 620.1,342.2 627.9,336.1" fill="none" stroke="#ff0000" stroke-width="1"/>
<rect x="0" y="397" width="678" height="1" fill="#000"/>
<rect x="0" y="416" width="677" height="1" fill="#0000ff"/>
<rect x="0" y="466" width="357" height="1" fill="#0000ff"/>
<rect x="458" y="466" width="219" height="1" fill="#0000ff"/>
<polyline points="0.0,406.3 2.8,411.9 5.6,424.0 8.4,440.8 10.8,451.0 14.0,451.4 16.8,448.2 19.6,441.7 23.3,435.2 28.0,432.4 29.9,425.9 32.1,418.0 36.4,418.4 39.2,421.2 42.0,428.6 45.7,442.6 49.4,452.0 53.2,460.7 56.0,453.8 59.7,447.3 63.4,440.8 66.2,433.3 70.0,427.7 72.8,419.3 74.6,414.3 77.4,420.3 80.2,430.5 83.0,441.3 85.8,438.0 88.6,431.4 91.4,424.9 94.2,420.3 96.1,419.3 98.9,425.9 102.6,434.2 106.3,439.8 108.2,440.8 111.0,436.1 113.8,427.7 117.0,418.4 118.5,427.7 120.3,444.5 122.8,459.4 125.6,471.6 128.4,478.1 130.3,479.6 134.0,477.2 137.7,472.5 141.5,467.8 143.3,457.6 145.2,442.6 149.9,430.5 154.5,418.4 159.2,412.8 163.3,407.6 169.4,407.2 174.1,406.3 177.8,408.1 181.6,411.9 185.3,416.5 188.1,424.9 190.9,436.1 193.7,448.2 195.6,459.4 198.0,470.6 201.2,477.2 204.0,478.5 208.6,476.6 214.2,476.2 217.9,472.5 222.6,470.6 224.5,465.0 226.3,459.4 231.0,461.3 233.8,452.0 239.4,438.9 242.8,422.1 246.5,410.9 252.1,407.2 255.9,414.7 258.7,424.0 261.5,438.9 264.3,455.7 268.0,466.9 272.6,469.3 276.4,466.0 282.0,461.3 285.7,452.9 289.4,446.4 293.2,433.3 296.0,434.2 299.7,438.0 302.5,447.3 304.4,457.6 306.2,467.8 310.0,474.4 313.7,477.5 316.5,476.6 320.2,470.6 324.9,461.3 329.6,451.0 333.3,439.8 336.1,424.9 339.8,417.5 344.1,412.8 348.2,417.5 352.9,423.1 357.5,425.9 361.3,418.4 365.9,409.6 368.4,417.5 371.2,428.6 373.1,444.5 374.9,453.8 378.7,458.1 381.5,454.8 384.3,452.0 388.0,452.9 391.3,458.5 394.5,450.1 397.3,438.9 400.1,428.6 403.8,424.9 407.6,424.0 412.2,425.9 416.9,426.8 420.3,431.4 423.4,425.9 427.2,418.4 433.7,409.4 437.4,414.7 442.1,408.7 446.8,408.1 451.0,405.3 455.1,407.2 458.9,411.9 462.6,420.3 465.4,431.4 468.2,444.5 471.9,456.6 476.6,462.2 480.3,466.5 484.4,461.9 488.8,459.7 492.2,440.2 496.6,429.2 499.9,427.0 503.2,428.1 505.4,432.5 508.8,434.7 512.1,448.0 515.4,454.6 518.7,460.2 522.5,472.3 525.4,464.6 528.2,460.6 532.0,460.2 535.3,462.4 538.6,470.8 541.9,470.1 546.4,466.8 549.7,460.2 553.0,451.3 556.3,445.8 558.5,434.7 560.8,428.1 565.2,425.9 568.5,413.7 572.9,410.4 577.3,404.4 580.7,407.1 585.1,409.7 589.5,414.8 592.8,424.8 596.2,438.0 598.4,450.2 602.8,456.8 605.0,446.9 608.3,429.2 611.6,414.8 616.1,408.8 619.4,411.9 623.8,409.3 627.6,407.1" fill="none" stroke="#ff0000" stroke-width="1"/>
<polyline points="0.0,407.2 2.8,409.1 6.5,414.7 9.3,427.7 12.1,437.0 14.9,443.6 18.7,447.7 21.5,445.4 25.2,440.8 28.9,436.1 32.6,428.6 36.4,423.1 40.1,419.9 42.9,424.0 46.6,433.3 50.4,443.6 54.1,452.0 57.8,454.4 61.6,452.0 65.3,445.4 69.0,438.0 73.7,428.6 78.4,421.7 82.1,425.9 85.8,430.5 89.6,433.3 92.4,431.4 96.1,425.9 98.9,423.6 102.6,425.9 106.3,431.4 109.1,435.2 111.9,435.6 114.7,432.4 117.5,430.1 120.3,432.4 122.8,438.9 125.6,450.1 128.4,466.0 131.2,472.5 134.9,476.6 138.7,475.3 142.4,470.6 145.2,461.3 148.0,452.0 151.7,440.8 156.4,427.7 160.1,418.4 164.8,411.9 169.4,407.6 174.1,406.3 179.7,407.6 184.4,411.9 188.1,417.5 191.8,426.8 194.6,437.0 197.4,450.1 200.2,461.3 204.0,471.6 207.7,476.2 213.3,477.5 218.9,474.4 222.6,472.5 226.3,466.9 230.1,464.1 234.7,456.6 239.4,450.1 243.7,436.1 247.5,424.0 251.2,413.7 254.9,410.6 260.5,415.6 263.3,429.6 267.1,444.5 270.8,455.7 274.5,464.1 278.2,466.9 282.0,465.0 285.7,459.4 289.4,454.8 294.1,445.4 298.8,438.5 302.5,438.9 305.3,446.4 309.0,457.6 311.8,466.0 315.6,474.4 319.3,474.4 323.0,471.6 327.7,463.2 333.3,452.9 337.0,438.9 341.7,425.9 345.4,416.5 349.1,416.9 353.8,420.3 358.5,423.6 362.2,422.1 366.9,417.5 370.3,418.4 373.1,426.8 375.9,436.1 378.7,445.4 382.4,454.8 386.1,454.8 390.8,454.2 394.5,452.9 398.2,449.2 402.0,440.8 404.8,433.3 408.5,425.9 413.2,424.9 416.9,425.5 420.6,427.7 424.4,427.7 429.0,424.0 433.7,414.7 438.4,413.7 442.1,410.6 446.8,410.0 451.4,406.8 455.1,406.3 459.8,409.1 463.5,414.7 467.3,425.9 471.0,438.9 474.7,450.1 478.5,459.4 481.3,462.8 485.0,463.5 488.8,462.4 493.3,451.3 497.7,440.2 502.1,431.4 505.4,429.2 508.8,430.3 512.1,436.9 515.4,442.5 518.7,449.1 522.0,460.2 526.5,464.1 530.9,463.5 535.3,461.3 538.6,463.5 543.1,467.2 547.5,467.2 551.9,461.3 556.3,452.4 560.8,440.2 565.2,432.5 568.5,422.5 572.9,415.9 577.3,409.3 581.8,407.1 586.2,407.1 590.6,412.6 595.0,422.5 599.5,436.9 603.9,448.0 606.1,449.1 609.4,442.5 612.7,433.6 616.1,420.3 619.4,412.6 623.8,410.4 627.6,409.3" fill="none" stroke="#0000ff" stroke-width="1"/>
<rect x="677" y="0" width="1" height="487" fill="#000"/>
<rect x="0" y="486" width="678" height="1" fill="#000"/>
<rect x="678" y="1" width="3" height="1" fill="#000"/>
<rect x="678" y="3" width="3" height="1" fill="#000"/>
<rect x="678" y="6" width="3" height="1" fill="#000"/>
<rect x="678" y="9" width="3" height="1" fill="#000"/>
<rect x="678" y="11" width="7" height="1" fill="#000"/>
<rect x="678" y="14" width="3" height="1" fill="#000"/>
<rect x="678" y="16" width="3" height="1" fill="#000"/>
<rect x="678" y="19" width="3" height="1" fill="#000"/>
<rect x="678" y="22" width="3" height="1" fill="#000"/>
<rect x="678" y="24" width="7" height="1" fill="#000"/>
<rect x="678" y="27" width="3" height="1" fill="#000"/>
<rect x="678" y="29" width="3" height="1" fill="#000"/>
<rect x="678" y="32" width="3" height="1" fill="#000"/>
<rect x="678" y="35" width="3" height="1" fill="#000"/>
<rect x="678" y="37" width="7" height="1" fill="#000"/>
<rect x="678" y="40" width="3" height="1" fill="#000"/>
<rect x="678" y="42" width="3" height="1" fill="#000"/>
<rect x="678" y="45" width="3" height="1" fill="#000"/>
<rect x="678" y="48" width="3" height="1" fill="#000"/>
<rect x="678" y="50" width="7" height="1" fill="#000"/>
<rect x="678" y="53" width="3" height="1" fill="#000"/>
<rect x="678" y="55" width="3" height="1" fill="#000"/>
<rect x="678" y="58" width="3" height="1" fill="#000"/>
<rect x="678" y="61" width="3" height="1" fill="#000"/>
<rect x="678" y="63" width="7" height="1" fill="#000"/>
<rect x="678" y="66" width="3" height="1" fill="#000"/>
<rect x="678" y="68" width="3" height="1" fill="#000"/>
<rect x="678" y="71" width="3" height="1" fill="#000"/>
<rect x="678" y="74" width="3" height="1" fill="#000"/>
<rect x="678" y="76" width="7" height="1" fill="#000"/>
<rect x="678" y="79" width="3" height="1" fill="#000"/>
<rect x="678" y="81" width="3" height="1" fill="#000"/>
<rect x="678" y="84" width="3" height="1" fill="#000"/>
<rect x="678" y="87" width="3" height="1" fill="#000"/>
<rect x="678" y="89" width="7" height="1" fill="#000"/>
<rect x="678" y="92" width="3" height="1" fill="#000"/>
<rect x="678" y="95" width="3" height="1" fill="#000"/>
<rect x="678" y="97" width="3" height="1" fill="#000"/>
<rect x="678" y="100" width="3" height="1" fill="#000"/>
<rect x="678" y="103" width="7" height="1" fill="#000"/>
<rect x="678" y="105" width="3" height="1" fill="#000"/>
<rect x="678" y="108" width="3" height="1" fill="#000"/>
<rect x="678" y="110" width="3" height="1" fill="#000"/>
<rect x="678" y="113" width="3" height="1" fill="#000"/>
<rect x="678" y="116" width="7" height="1" fill="#000"/>
<rect x="678" y="118" width="3" height="1" fill="#000"/>
<rect x="678" y="121" width="3" height="1" fill="#000"/>
<rect x="678" y="124" width="3" height="1" fill="#000"/>
<rect x="678" y="126" width="3" height="1" fill="#000"/>
<rect x="678" y="129" width="7" height="1" fill="#000"/>
<rect x="678" y="132" width="3" height="1" fill="#000"/>
<rect x="678" y="134" width="3" height="1" fill="#000"/>
<rect x="678" y="137" width="3" height="1" fill="#000"/>
<rect x="678" y="140" width="3" height="1" fill="#000"/>
<rect x="678" y="142" width="7" height="1" fill="#000"/>
<rect x="678" y="145" width="3" height="1" fill="#000"/>
<rect x="678" y="148" width="3" height="1" fill="#000"/>
<rect x="678" y="150" width="3" height="1" fill="#000"/>
<rect x="678" y="153" width="3" height="1" fill="#000"/>
<rect x="678" y="156" width="7" height="1" fill="#000"/>
<rect x="678" y="158" width="3" height="1" fill="#000"/>
<rect x="678" y="161" width="3" height="1" fill="#000"/>
<rect x="678" y="164" width="3" height="1" fill="#000"/>
<rect x="678" y="166" width="3" height="1" fill="#000"/>
<rect x="678" y="169" width="7" height="1" fill="#000"/>
<rect x="678" y="172" width="3" height="1" fill="#000"/>
<rect x="678" y="174" width="3" height="1" fill="#000"/>
<rect x="678" y="177" width="3" height="1" fill="#000"/>
<rect x="678" y="180" width="3" height="1" fill="#000"/>
<rect x="678" y="182" width="7" height="1" fill="#000"/>
<rect x="678" y="185" width="3" height="1" fill="#000"/>
<rect x="678" y="188" width="3" height="1" fill="#000"/>
<rect x="678" y="190" width="3" height="1" fill="#000"/>
<rect x="678" y="193" width="3" height="1" fill="#000"/>
<rect x="678" y="196" width="7" height="1" fill="#000"/>
<rect x="678" y="198" width="3" height="1" fill="#000"/>
<rect x="678" y="201" width="3" height="1" fill="#000"/>
<rect x="678" y="204" width="3" height="1" fill="#000"/>
<rect x="678" y="207" width="3" height="1" fill="#000"/>
<rect x="678" y="209" width="7" height="1" fill="#000"/>
<rect x="678" y="212" width="3" height="1" fill="#000"/>
<rect x="678" y="215" width="3" height="1" fill="#000"/>
<rect x="678" y="217" width="3" height="1" fill="#000"/>
<rect x="678" y="220" width="3" height="1" fill="#000"/>
<rect x="678" y="223" width="7" height="1" fill="#000"/>
<rect x="678" y="226" width="3" height="1" fill="#000"/>
<rect x="678" y="228" width="3" height="1" fill="#000"/>
<rect x="678" y="231" width="3" height="1" fill="#000"/>
<rect x="678" y="234" width="3" height="1" fill="#000"/>
<rect x="678" y="236" width="7" height="1" fill="#000"/>
<rect x="678" y="239" width="3" height="1" fill="#000"/>
<rect x="678" y="242" width="3" height="1" fill="#000"/>
<rect x="678" y="245" width="3" height="1" fill="#000"/>
<rect x="678" y="247" width="3" height="1" fill="#000"/>
<rect x="678" y="250" width="7" height="1" fill="#000"/>
<rect x="678" y="253" width="3" height="1" fill="#000"/>
<rect x="678" y="255" width="3" height="1" fill="#000"/>
<rect x="678" y="258" width="3" height="1" fill="#000"/>
<rect x="678" y="261" width="3" height="1" fill="#000"/>
<rect x="678" y="264" width="7" height="1" fill="#000"/>
<rect x="678" y="266" width="3" height="1" fill="#000"/>
<rect x="678" y="269" width="3" height="1" fill="#000"/>
<rect x="678" y="272" width="3" height="1" fill="#000"/>
<rect x="678" y="275" width="3" height="1" fill="#000"/>
<rect x="678" y="277" width="7" height="1" fill="#000"/>
<rect x="678" y="280" width="3" height="1" fill="#000"/>
<rect x="678" y="283" width="3" height="1" fill="#000"/>
<rect x="678" y="286" width="3" height="1" fill="#000"/>
<rect x="678" y="288" width="3" height="1" fill="#000"/>
<rect x="678" y="291" width="7" height="1" fill="#000"/>
<rect x="678" y="294" width="3" height="1" fill="#000"/>
<rect x="678" y="297" width="3" height="1" fill="#000"/>
<rect x="678" y="299" width="3" height="1" fill="#000"/>
<rect x="678" y="302" width="3" height="1" fill="#000"/>
<rect x="678" y="305" width="7" height="1" fill="#000"/>
<rect x="678" y="308" width="3" height="1" fill="#000"/>
<rect x="678" y="310" width="3" height="1" fill="#000"/>
<rect x="678" y="313" width="3" height="1" fill="#000"/>
<rect x="678" y="316" width="3" height="1" fill="#000"/>
<rect x="678" y="319" width="7" height="1" fill="#000"/>
<rect x="678" y="321" width="3" height="1" fill="#000"/>
<rect x="678" y="324" width="3" height="1" fill="#000"/>
<rect x="678" y="326" width="3" height="1" fill="#000"/>
<rect x="678" y="328" width="3" height="1" fill="#000"/>
<rect x="678" y="331" width="3" height="1" fill="#000"/>
<rect x="678" y="333" width="3" height="1" fill="#000"/>
<rect x="678" y="336" width="3" height="1" fill="#000"/>
<rect x="678" y="338" width="3" height="1" fill="#000"/>
<rect x="678" y="342" width="7" height="1" fill="#000"/>
<rect x="678" y="345" width="3" height="1" fill="#000"/>
<rect x="678" y="348" width="3" height="1" fill="#000"/>
<rect x="678" y="351" width="3" height="1" fill="#000"/>
<rect x="678" y="355" width="3" height="1" fill="#000"/>
<rect x="678" y="358" width="7" height="1" fill="#000"/>
<rect x="678" y="361" width="3" height="1" fill="#000"/>
<rect x="678" y="365" width="3" height="1" fill="#000"/>
<rect x="678" y="368" width="3" height="1" fill="#000"/>
<rect x="678" y="371" width="3" height="1" fill="#000"/>
<rect x="678" y="374" width="7" height="1" fill="#000"/>
<rect x="678" y="378" width="3" height="1" fill="#000"/>
<rect x="678" y="381" width="3" height="1" fill="#000"/>
<rect x="678" y="384" width="3" height="1" fill="#000"/>
<rect x="678" y="387" width="3" height="1" fill="#000"/>
<rect x="678" y="391" width="7" height="1" fill="#000"/>
<rect x="678" y="394" width="3" height="1" fill="#000"/>
<rect x="678" y="483" width="7" height="1" fill="#000"/>
<rect x="678" y="475" width="3" height="1" fill="#000"/>
<rect x="678" y="466" width="3" height="1" fill="#000"/>
<rect x="678" y="458" width="3" height="1" fill="#000"/>
<rect x="678" y="450" width="3" height="1" fill="#000"/>
<rect x="678" y="442" width="7" height="1" fill="#000"/>
<rect x="678" y="433" width="3" height="1" fill="#000"/>
<rect x="678" y="425" width="3" height="1" fill="#000"/>
<rect x="678" y="417" width="3" height="1" fill="#000"/>
<rect x="678" y="408" width="3" height="1" fill="#000"/>
<rect x="678" y="400" width="7" height="1" fill="#000"/>
<rect x="678" y="111" width="3" height="2" fill="#000"/>
<rect x="23" y="487" width="1" height="5" fill="#000"/>
<rect x="44" y="487" width="1" height="5" fill="#000"/>
<rect x="65" y="487" width="1" height="5" fill="#000"/>
<rect x="86" y="487" width="1" height="5" fill="#000"/>
<rect x="107" y="487" width="1" height="5" fill="#000"/>
<rect x="129" y="487" width="1" height="5" fill="#000"/>
<rect x="150" y="487" width="1" height="5" fill="#000"/>
<rect x="171" y="487" width="1" height="5" fill="#000"/>
<rect x="213" y="487" width="1" height="5" fill="#000"/>
<rect x="234" y="487" width="1" height="5" fill="#000"/>
<rect x="255" y="487" width="1" height="5" fill="#000"/>
<rect x="277" y="487" width="1" height="5" fill="#000"/>
<rect x="298" y="487" width="1" height="5" fill="#000"/>
<rect x="319" y="487" width="1" height="5" fill="#000"/>
<rect x="340" y="487" width="1" height="5" fill="#000"/>
<rect x="361" y="487" width="1" height="5" fill="#000"/>
<rect x="382" y="487" width="1" height="5" fill="#000"/>
<rect x="403" y="487" width="1" height="5" fill="#000"/>
<rect x="425" y="487" width="1" height="5" fill="#000"/>
<rect x="446" y="487" width="1" height="5" fill="#000"/>
<rect x="484" y="487" width="1" height="5" fill="#000"/>
<rect x="505" y="487" width="1" height="5" fill="#000"/>
<rect x="526" y="487" width="1" height="5" fill="#000"/>
<rect x="547" y="487" width="1" height="5" fill="#000"/>
<rect x="568" y="487" width="1" height="5" fill="#000"/>
<rect x="590" y="487" width="1" height="5" fill="#000"/>
<rect x="611" y="487" width="1" height="5" fill="#000"/>
<rect x="632" y="487" width="1" height="5" fill="#000"/>
<rect x="653" y="487" width="1" height="5" fill="#000"/>
<rect x="674" y="487" width="1" height="5" fill="#000"/>
<rect x="2" y="487" width="1" height="17" fill="#000"/>
<rect x="99" y="487" width="1" height="17" fill="#000"/>
<rect x="193" y="487" width="1" height="17" fill="#000"/>
<rect x="281" y="487" width="1" height="17" fill="#000"/>
<rect x="374" y="487" width="1" height="17" fill="#000"/>
<rect x="463" y="487" width="1" height="17" fill="#000"/>
<rect x="556" y="487" width="1" height="17" fill="#000"/>
<rect x="641" y="487" width="1" height="17" fill="#000"/>
</g>
<g style="will-change:transform">
<text x="690.4" y="16.7" font-size="11" fill="#000" text-anchor="start" >170.0</text>
<text x="690.4" y="29.7" font-size="11" fill="#000" text-anchor="start" >169.5</text>
<text x="690.4" y="42.7" font-size="11" fill="#000" text-anchor="start" >169.0</text>
<text x="690.4" y="55.7" font-size="11" fill="#000" text-anchor="start" >168.5</text>
<text x="690.4" y="68.7" font-size="11" fill="#000" text-anchor="start" >168.0</text>
<text x="690.4" y="81.7" font-size="11" fill="#000" text-anchor="start" >167.5</text>
<text x="690.4" y="94.7" font-size="11" fill="#000" text-anchor="start" >167.0</text>
<text x="690.4" y="108.7" font-size="11" fill="#000" text-anchor="start" >166.5</text>
<text x="690.4" y="121.7" font-size="11" fill="#000" text-anchor="start" >166.0</text>
<text x="690.4" y="134.7" font-size="11" fill="#000" text-anchor="start" >165.5</text>
<text x="690.4" y="147.7" font-size="11" fill="#000" text-anchor="start" >165.0</text>
<text x="690.4" y="161.7" font-size="11" fill="#000" text-anchor="start" >164.5</text>
<text x="690.4" y="174.7" font-size="11" fill="#000" text-anchor="start" >164.0</text>
<text x="690.4" y="187.7" font-size="11" fill="#000" text-anchor="start" >163.5</text>
<text x="690.4" y="201.7" font-size="11" fill="#000" text-anchor="start" >163.0</text>
<text x="690.4" y="214.7" font-size="11" fill="#000" text-anchor="start" >162.5</text>
<text x="690.4" y="228.7" font-size="11" fill="#000" text-anchor="start" >162.0</text>
<text x="690.4" y="241.7" font-size="11" fill="#000" text-anchor="start" >161.5</text>
<text x="690.4" y="255.7" font-size="11" fill="#000" text-anchor="start" >161.0</text>
<text x="690.4" y="269.7" font-size="11" fill="#000" text-anchor="start" >160.5</text>
<text x="690.4" y="282.7" font-size="11" fill="#000" text-anchor="start" >160.0</text>
<text x="690.4" y="296.7" font-size="11" fill="#000" text-anchor="start" >159.5</text>
<text x="690.4" y="310.7" font-size="11" fill="#000" text-anchor="start" >159.0</text>
<text x="690.4" y="324.7" font-size="11" fill="#000" text-anchor="start" >158.5</text>
<text x="719.3" y="347.7" font-size="11" fill="#000" text-anchor="end" >0.5</text>
<text x="719.3" y="363.7" font-size="11" fill="#000" text-anchor="end" >0.0</text>
<text x="719.3" y="379.7" font-size="11" fill="#000" text-anchor="end" >-0.5</text>
<text x="719.3" y="396.7" font-size="11" fill="#000" text-anchor="end" >-1.0</text>
<text x="719.5" y="446.7" font-size="11" fill="#000" text-anchor="end" >50</text>
<text x="3.5" y="502" font-size="11" fill="#000" text-anchor="start" >August</text>
<text x="100.5" y="502" font-size="11" fill="#000" text-anchor="start" textLength="55" lengthAdjust="spacing">September</text>
<text x="194.5" y="502" font-size="11" fill="#000" text-anchor="start" >October</text>
<text x="282.5" y="502" font-size="11" fill="#000" text-anchor="start" textLength="51.7" lengthAdjust="spacing">November</text>
<text x="375.5" y="502" font-size="11" fill="#000" text-anchor="start" textLength="49.6" lengthAdjust="spacing">December</text>
<text x="464.5" y="502" font-size="11" fill="#000" text-anchor="start" textLength="23.6" lengthAdjust="spacing">2017</text>
<text x="557.5" y="502" font-size="11" fill="#000" text-anchor="start" >February</text>
<text x="642.5" y="502" font-size="11" fill="#000" text-anchor="start" textLength="29.4" lengthAdjust="spacing">March</text>
<rect x="252" y="10" width="127" height="19" fill="#fff"/>
<text x="262.7" y="25" font-size="19.3" fill="#000" text-anchor="start" stroke="#000" stroke-width="0.45" textLength="104" lengthAdjust="spacingAndGlyphs">Bund Future</text>
<text x="516" y="25.6" font-size="14" fill="#808080" text-anchor="start" textLength="121.2" lengthAdjust="spacing">www.chartbuero.de</text>
<text x="10.5" y="315" font-size="12" fill="#808080" text-anchor="start" >Hoppenstedt Charts</text>
<text x="194.5" y="347.7" font-size="12" fill="#000" text-anchor="start" textLength="174.6" lengthAdjust="spacing">MACD (12/26/9) mit Histogramm</text>
<text x="359.6" y="476.8" font-size="12" fill="#000" text-anchor="start" textLength="94.5" lengthAdjust="spacing">Stochastik (5/3/3)</text>
</g>
</svg>
</body></html>
